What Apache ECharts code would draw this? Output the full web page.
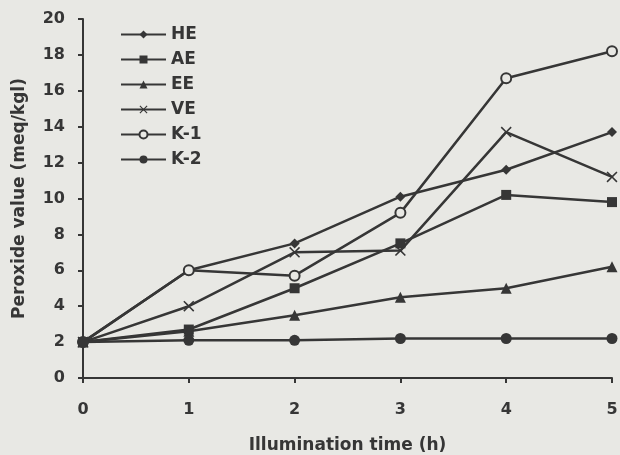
<!DOCTYPE html>
<html><head><meta charset="utf-8">
<script src="https://cdn.jsdelivr.net/npm/echarts@6/dist/echarts.min.js"></script>
<style>html,body{margin:0;padding:0;background:#e8e8e4;overflow:hidden}#c{width:620px;height:455px}</style>
</head><body><div id="c"></div>
<script>
const hours = [0, 1, 2, 3, 4, 5];
const seriesNames = ['HE', 'AE', 'EE', 'VE', 'K-1', 'K-2'];
const HE = [2.0, 6.0, 7.5, 10.1, 11.6, 13.7];
const AE = [2.0, 2.7, 5.0, 7.5, 10.2, 9.8];
const EE = [2.0, 2.6, 3.5, 4.5, 5.0, 6.2];
const VE = [2.0, 4.0, 7.0, 7.1, 13.7, 11.2];
const K1 = [2.0, 6.0, 5.7, 9.2, 16.7, 18.2];
const K2 = [2.0, 2.1, 2.1, 2.2, 2.2, 2.2];
const yTicks = [0, 20, 2];

const C = '#363636';
const BG = '#e8e8e4';
const FONT = 'DejaVu Sans, Liberation Sans, Arial, sans-serif';
const crossPath = 'path://M0,1L1,0L5,4L9,0L10,1L6,5L10,9L9,10L5,6L1,10L0,9L4,5Z';
const values = [HE, AE, EE, VE, K1, K2];
const symbols = ['diamond', 'rect', 'triangle', crossPath, 'circle', 'circle'];
const sizes = [10, 10, 11, 11, 10, 11];

const chart = echarts.init(document.getElementById('c'));
chart.setOption({
  backgroundColor: BG,
  animation: false,
  textStyle: { fontFamily: FONT, fontWeight: 'bold', color: C },
  grid: { left: 83, right: 8, top: 19, bottom: 77, containLabel: false, outerBoundsMode: 'none' },
  legend: {
    orient: 'vertical', left: 115, top: 21,
    itemWidth: 45, itemHeight: 10, itemGap: 8,
    textStyle: { fontFamily: FONT, fontSize: 17, fontWeight: 'bold', color: C },
    data: seriesNames
  },
  xAxis: {
    type: 'value', min: 0, max: 5, interval: 1,
    name: 'Illumination time (h)', nameLocation: 'middle', nameGap: 59,
    nameTextStyle: { fontFamily: FONT, fontSize: 17, fontWeight: 'bold', color: C },
    axisLine: { lineStyle: { color: C, width: 2 } },
    axisTick: { lineStyle: { color: C, width: 2 }, length: 5 },
    axisLabel: { fontFamily: FONT, fontSize: 16, fontWeight: 'bold', color: C, margin: 24 },
    splitLine: { show: false }
  },
  yAxis: {
    type: 'value', min: yTicks[0], max: yTicks[1], interval: yTicks[2],
    name: 'Peroxide value (meq/kgl)', nameLocation: 'middle', nameGap: 55,
    nameTextStyle: { fontFamily: FONT, fontSize: 17, fontWeight: 'bold', color: C },
    axisLine: { show: true, lineStyle: { color: C, width: 2 } },
    axisTick: { show: true, lineStyle: { color: C, width: 2 }, length: 5 },
    axisLabel: { fontFamily: FONT, fontSize: 16, fontWeight: 'bold', color: C, margin: 18 },
    splitLine: { show: false }
  },
  series: seriesNames.map((n, i) => ({
    name: n, type: 'line',
    data: hours.map((h, j) => [h, values[i][j]]),
    symbol: symbols[i], symbolSize: sizes[i],
    showAllSymbol: true,
    lineStyle: { color: C, width: 2.5 },
    itemStyle: { color: i === 4 ? BG : C, borderColor: C, borderWidth: i === 4 ? 2 : 0 },
    emphasis: { disabled: true }
  }))
});
</script></body></html>
